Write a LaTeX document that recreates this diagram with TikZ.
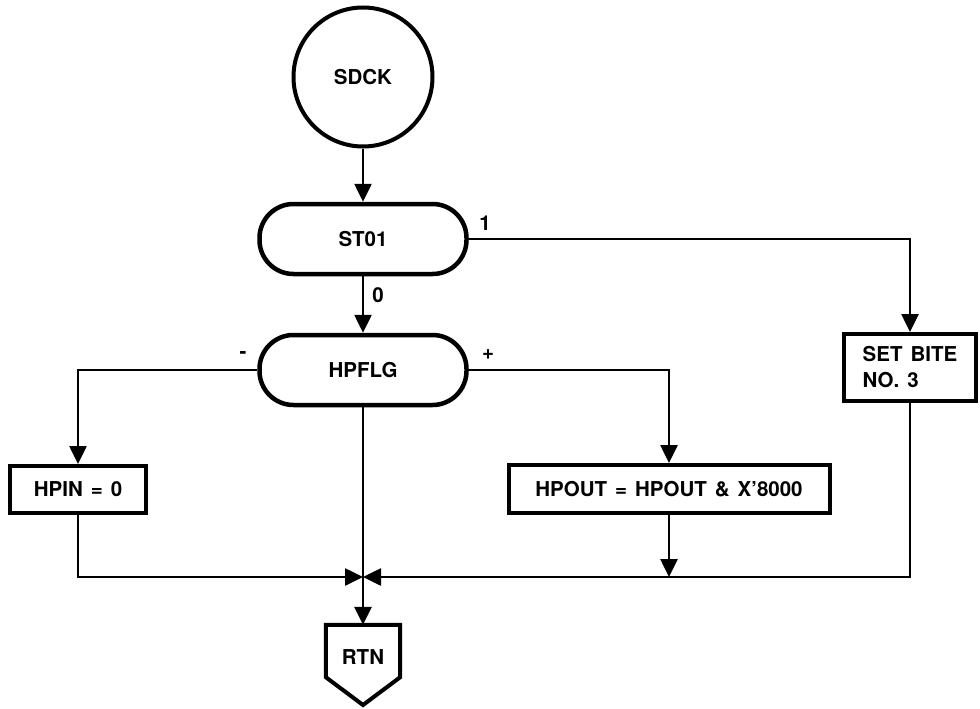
\documentclass[tikz,border=0pt]{standalone}
\usepackage{fontspec}
\setmainfont{TeX Gyre Heros}
\usetikzlibrary{arrows.meta}
\newcommand\nodefont{\bfseries\fontsize{20.5}{26}\selectfont\spaceskip=8pt\relax}
\begin{document}
\begin{tikzpicture}[x=1pt,y=-1pt,
  every node/.style={font=\nodefont, inner sep=0pt},
  conn/.style={line width=2.6pt, -{Triangle[length=18pt,width=17pt]}},
  term/.style={draw, line width=4.5pt, rounded corners=34pt, minimum width=207pt, minimum height=70pt},
  proc/.style={draw, line width=4pt},
  lbl/.style={font=\nodefont}]
\useasboundingbox (0,0) rectangle (980,709);
\fill[white] (0,0) rectangle (980,709);
% nodes
\node[draw, circle, line width=4pt, minimum size=139pt] (sdck) at (363,77) {SDCK};
\node[term] (st01) at (363,239) {ST01};
\node[term] (hpflg) at (363,370) {HPFLG};
\node[proc, minimum width=132pt, minimum height=67pt, align=left] (setbite) at (910,367.5) {SET BITE\\NO. 3};
\node[proc, minimum width=136pt, minimum height=47pt] (hpin) at (78,489.5) {HPIN = 0};
\node[proc, minimum width=321pt, minimum height=48pt] (hpout) at (669,489) {HPOUT = HPOUT \& X'8000};
\node[minimum width=74pt, minimum height=52pt] (rtn) at (363,651) {};
\node (rtntxt) at (363,657) {RTN};
\draw[proc, line join=miter] (rtn.north west) -- (rtn.north east) -- (rtn.south east) -- (363,705) -- (rtn.south west) -- cycle;
\coordinate (j) at (363,577);
% labels
\node[lbl] (l1) at (485,223) {1};
\node[lbl] (l0) at (378,295) {0};
\node[lbl] (lm) at (243,355) {-};
\node[lbl] (lp) at (488,355) {+};
% connectors
\draw[conn] (sdck.south) -- (st01.north);
\draw[conn] (st01.east) -| (setbite.north);
\draw[conn] (st01.south) -- (hpflg.north);
\draw[conn] (hpflg.west) -| (hpin.north);
\draw[conn] (hpflg.east) -| (hpout.north);
\draw[conn] (hpin.south) |- (j);
\draw[conn] (setbite.south) |- (j);
\draw[conn] (hpout.south) -- (hpout.south |- j);
\draw[conn] (hpflg.south) -- (rtn.north);
\end{tikzpicture}
\end{document}
